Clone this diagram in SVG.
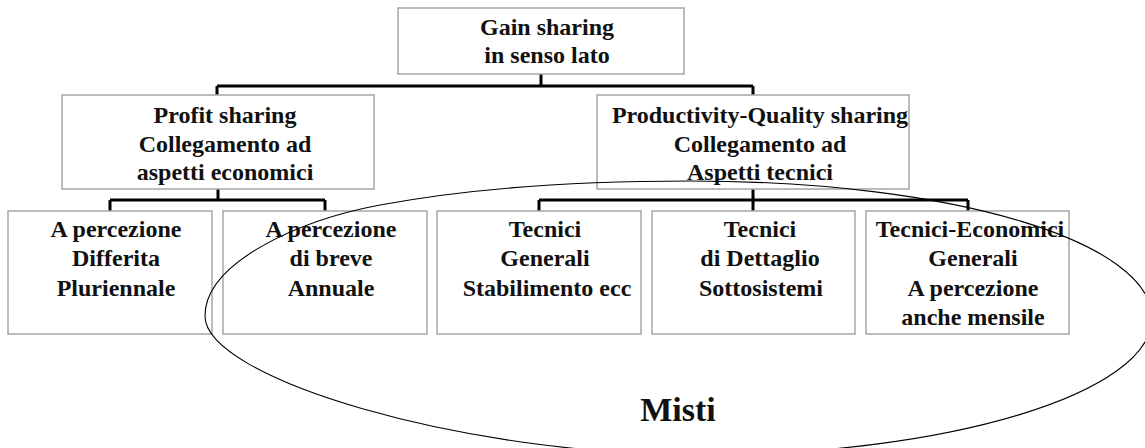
<svg xmlns="http://www.w3.org/2000/svg" width="1145" height="448" viewBox="0 0 1145 448">
  <style>
    .box { fill: #ffffff; stroke: #a6a6a6; stroke-width: 1.5; }
    .lbl { font-family: "Liberation Serif", "Times New Roman", serif; font-weight: bold; font-size: 24px; fill: #111111; text-anchor: middle; }
    .link { fill: none; stroke: #000000; stroke-width: 3; }
    .oval { fill: none; stroke: #000000; stroke-width: 1.1; }
    .big { font-family: "Liberation Serif", "Times New Roman", serif; font-weight: bold; font-size: 34px; fill: #111111; text-anchor: middle; }
  </style>

  <!-- connectors of the tree -->
  <g id="connectors">
    <path class="link" d="M541,74 V86 M217,86 H753 M217,86 V95 M753,86 V95"/>
    <path class="link" d="M218,189 V200 M110,200 H325 M110,200 V211 M325,200 V211"/>
    <path class="link" d="M753,189 V200 M539,200 H968 M539,200 V211 M753,200 V211 M968,200 V211"/>
  </g>

  <g id="gain-sharing">
    <rect class="box" x="398" y="8" width="286" height="66"/>
    <text class="lbl" x="547" y="35">Gain sharing</text>
    <text class="lbl" x="547" y="63">in senso lato</text>
  </g>

  <g id="profit-sharing">
    <rect class="box" x="62" y="95" width="312" height="94"/>
    <text class="lbl" x="225" y="122.5">Profit sharing</text>
    <text class="lbl" x="225" y="151.5">Collegamento ad</text>
    <text class="lbl" x="225" y="179.5">aspetti economici</text>
  </g>

  <g id="productivity-sharing">
    <rect class="box" x="597" y="95" width="312" height="94"/>
    <text class="lbl" x="760" y="122.5">Productivity-Quality sharing</text>
    <text class="lbl" x="760" y="151.5">Collegamento ad</text>
    <text class="lbl" x="760" y="179.5">Aspetti tecnici</text>
  </g>

  <g id="differita">
    <rect class="box" x="8" y="211" width="204" height="123"/>
    <text class="lbl" x="116" y="236.5">A percezione</text>
    <text class="lbl" x="116" y="266">Differita</text>
    <text class="lbl" x="116" y="296">Pluriennale</text>
  </g>

  <g id="breve">
    <rect class="box" x="223" y="211" width="204" height="123"/>
    <text class="lbl" x="331" y="236.5">A percezione</text>
    <text class="lbl" x="331" y="266">di breve</text>
    <text class="lbl" x="331" y="296">Annuale</text>
  </g>

  <g id="tecnici-generali">
    <rect class="box" x="437" y="211" width="204" height="123"/>
    <text class="lbl" x="545" y="236.5">Tecnici</text>
    <text class="lbl" x="545" y="266">Generali</text>
    <text class="lbl" x="547" y="296">Stabilimento ecc</text>
  </g>

  <g id="tecnici-dettaglio">
    <rect class="box" x="652" y="211" width="203" height="123"/>
    <text class="lbl" x="760" y="236.5">Tecnici</text>
    <text class="lbl" x="760" y="266">di Dettaglio</text>
    <text class="lbl" x="761" y="296">Sottosistemi</text>
  </g>

  <g id="tecnici-economici">
    <rect class="box" x="866" y="211" width="203" height="123"/>
    <text class="lbl" x="970" y="236.5">Tecnici-Economici</text>
    <text class="lbl" x="973" y="266">Generali</text>
    <text class="lbl" x="973" y="296">A percezione</text>
    <text class="lbl" x="973" y="325">anche mensile</text>
  </g>

  <!-- the "Misti" oval drawn over the lower row -->
  <g id="misti">
    <path class="oval" d="M205,316 C205,262 300,220 380,205 C460,190 560,181 690,181 C958,181 1152,243 1152,318 C1152,393 950,455 700,455 C460,455 205,378 205,316 Z"/>
    <text class="big" x="678" y="421">Misti</text>
  </g>
</svg>
